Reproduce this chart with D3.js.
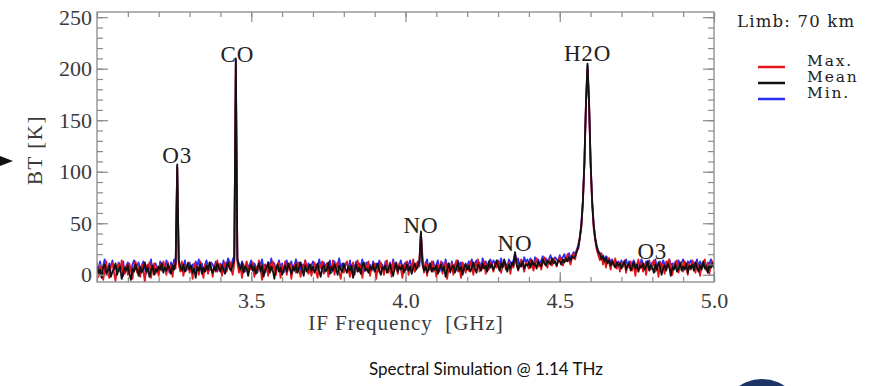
<!DOCTYPE html>
<html>
<head>
<meta charset="utf-8">
<script src="https://cdn.jsdelivr.net/npm/d3@7"></script>
<style>
  body { margin: 0; background: #fff; }
  svg { display: block; }
</style>
</head>
<body>
<svg id="chart" width="875" height="386"></svg>
<script>
//---------------- data ----------------//
// frequency grid in GHz, one sample every 0.005 GHz from 3.000 to 5.000
const freq = d3.range(401).map(i => +(3 + i * 0.005).toFixed(3));

// brightness temperature [K], mean case (one row = 0.1 GHz)
const meanBT = [
  8, 2, 5, -3, 7, 10, 1, 4, 9, -2, 3, 6, 11, 0, 5, 8, -4, 2, 7, 4,
  9, 1, -5, 6, 3, 10, 5, -1, 8, 2, 6, 12, 3, 7, -2, 4, 9, 0, 6, 3,
  8, 5, 11, 2, 7, 4, 10, 6, 1, 9, 5, 12, 107, 14, 8, 4, 10, 3, 7, 11,
  5, 9, 2, 6, -3, 8, 4, 10, 1, 7, 3, 9, 5, 12, 6, 2, 8, 4, 11, 7,
  3, 9, 5, 1, 8, 12, 6, 4, 10, 14, 210, 16, 9, 5, 11, 2, 8, 6, -1, 7,
  10, 4, 8, 1, 6, 11, 3, 9, -2, 5, 7, 12, 2, 8, 4, -4, 6, 10, 3, 7,
  0, 5, 9, 3, 11, 6, 1, 8, 4, 10, 2, 7, 12, 5, -1, 9, 3, 6, 10, 4,
  8, 2, 6, 11, 4, -2, 7, 9, 3, 5, 12, 1, 8, 4, 10, 6, 0, 9, 5, 3,
  11, 6, 2, 8, 4, 9, -3, 5, 10, 3, 7, 1, 9, 12, 4, 6, 2, 8, 5, 10,
  3, 7, 11, 4, 0, 8, 5, 9, 2, 6, 10, 4, -1, 7, 12, 3, 8, 5, 9, 2,
  6, 10, 4, 8, 1, 7, 11, 5, 9, 12, 42, 10, 4, 8, 2, 6, 11, 3, 7, 5,
  9, 1, 6, 10, 4, 8, -2, 5, 11, 3, 7, 9, 2, 6, 12, 4, 8, 0, 7, 10,
  5, 9, 3, 7, 12, 6, 2, 10, 8, 4, 11, 6, 9, 3, 13, 7, 10, 5, 8, 14,
  9, 4, 11, 7, 15, 8, 3, 10, 6, 12, 9, 22, 10, 5, 11, 8, 13, 6, 10, 9,
  12, 7, 14, 9, 11, 6, 13, 10, 8, 15, 11, 9, 14, 12, 10, 16, 11, 13, 9, 14,
  13, 10, 15, 12, 16, 13, 17, 14, 18, 16, 18, 22, 27, 35, 48, 71, 110, 168, 205, 168,
  110, 71, 48, 35, 27, 22, 20, 15, 18, 13, 16, 11, 14, 9, 13, 10, 7, 12, 9, 11,
  6, 10, 13, 5, 9, 11, 4, 8, 12, 6, 10, 3, 9, 7, 11, 5, 8, 13, 4, 9,
  7, 2, 10, 5, 12, 8, 0, 6, 9, 4, 11, 7, -1, 8, 5, 10, 3, 6, 12, 4,
  8, 5, 11, 2, 9, 6, 10, 4, 12, 7, 3, 9, 5, 13, 6, 8, 2, 10, 7, 11,
  6
];

// maximum case
const maxBT = [
  12, -2, 6, 9, -5, 4, 13, 1, -3, 8, 11, 2, -6, 7, 10, 3, 14, -1, 5, 9,
  0, 11, 4, -4, 8, 13, 2, 7, -2, 10, 5, -7, 9, 3, 12, -3, 6, 11, 1, 8,
  -1, 10, 4, 13, 7, 0, 12, 3, 9, -2, 11, 6, 104, 10, 3, 13, -1, 8, 5, 12,
  2, 8, -4, 11, 5, 9, 0, 13, 4, -3, 10, 6, 1, 12, 7, -2, 9, 3, 14, 5,
  10, -1, 7, 12, 3, 9, 13, 5, 0, 11, 206, 12, 2, 8, -3, 10, 4, 13, 1, 9,
  5, 12, -2, 8, 3, 14, 6, -5, 10, 2, 9, -1, 11, 4, 13, 7, 0, 8, 12, -3,
  9, 4, 13, 0, 7, 11, -4, 6, 10, 2, 12, 5, -2, 9, 3, 14, 6, 1, 10, -1,
  6, 12, 3, -3, 10, 7, 13, 1, 5, 11, -2, 8, 4, 14, 0, 9, 12, 3, -4, 7,
  2, 10, 13, 5, -2, 8, 12, 0, 6, 14, 3, 9, -3, 7, 11, 4, 13, -1, 8, 5,
  11, -4, 7, 3, 12, 6, 0, 10, 14, 2, 8, -2, 13, 5, 9, 1, 11, 6, -3, 10,
  4, 13, 0, 9, 6, 15, 3, 11, 7, 14, 40, 18, 2, 12, -1, 9, 5, 13, 3, 8,
  -2, 10, 6, 13, 1, 8, 12, -4, 7, 4, 11, 0, 9, 14, 3, 6, -3, 12, 8, 2,
  10, 4, 13, 7, 0, 11, 8, 15, 3, 9, 6, 13, 1, 10, 5, 12, 8, 3, 11, 7,
  13, 6, 2, 10, 14, 5, 9, 12, 1, 11, 7, 20, 13, 4, 8, 15, 10, 3, 12, 9,
  6, 14, 9, 4, 12, 16, 8, 11, 5, 13, 17, 10, 7, 15, 12, 9, 16, 13, 8, 14,
  17, 11, 9, 15, 13, 20, 14, 10, 17, 21, 15, 24, 25, 37, 46, 70, 108, 165, 200, 166,
  108, 69, 45, 33, 24, 19, 14, 21, 10, 15, 7, 17, 12, 5, 14, 9, 16, 6, 11, 3,
  12, 8, 14, 2, 10, 7, 13, 4, 11, -1, 9, 15, 6, 12, 3, 10, 0, 13, 8, 5,
  11, 14, 3, 9, -2, 12, 6, 10, 1, 13, 8, 15, 4, 0, 11, 7, 14, 2, 9, 12,
  3, 13, 7, 0, 11, 5, 14, 9, 2, 12, 6, -1, 10, 8, 15, 4, 11, 1, 9, 13,
  8
];

// minimum case
const minBT = [
  10, 6, 13, 4, 9, 15, 7, 2, 11, 8, 14, 5, 10, 3, 12, 9, 6, 13, 1, 8,
  12, 7, 3, 10, 14, 5, 9, 12, 2, 8, 13, 6, 1, 10, 7, 15, 4, 9, 11, 6,
  3, 13, 8, 11, 5, 14, 9, 2, 12, 7, 15, 10, 105, 13, 6, 11, 8, 14, 4, 9,
  12, 6, 10, 3, 13, 8, 15, 5, 11, 2, 9, 14, 7, 4, 12, 10, 6, 13, 3, 9,
  11, 7, 14, 5, 10, 16, 12, 8, 15, 18, 208, 14, 11, 6, 13, 9, 3, 12, 7, 10,
  14, 6, 11, 8, 2, 13, 9, 15, 5, 10, 4, 12, 8, 16, 6, 11, 3, 9, 14, 7,
  11, 2, 8, 14, 6, 10, 13, 4, 9, 15, 7, 12, 3, 10, 8, 14, 5, 11, 2, 9,
  13, 7, 10, 4, 15, 9, 3, 12, 8, 11, 6, 14, 2, 10, 13, 5, 9, 16, 7, 11,
  4, 9, 12, 6, 14, 2, 10, 7, 13, 5, 11, 8, 15, 3, 9, 12, 6, 10, 4, 13,
  8, 11, 5, 14, 7, 10, 2, 13, 9, 6, 12, 4, 15, 8, 11, 3, 10, 14, 7, 9,
  12, 5, 10, 14, 7, 11, 3, 9, 13, 8, 41, 12, 6, 10, 15, 4, 11, 8, 13, 6,
  10, 14, 3, 9, 12, 6, 15, 8, 11, 2, 13, 7, 10, 5, 14, 9, 12, 4, 8, 11,
  7, 13, 9, 15, 5, 11, 14, 8, 12, 6, 16, 10, 13, 7, 12, 15, 9, 14, 11, 8,
  14, 10, 16, 8, 13, 11, 6, 15, 12, 9, 14, 21, 11, 16, 8, 13, 10, 17, 12, 15,
  11, 16, 13, 9, 17, 12, 15, 10, 14, 18, 13, 16, 11, 15, 19, 14, 12, 17, 15, 13,
  19, 15, 17, 20, 14, 18, 21, 16, 19, 22, 20, 24, 29, 36, 50, 72, 109, 166, 203, 167,
  109, 72, 49, 36, 28, 23, 21, 17, 19, 15, 18, 13, 16, 12, 15, 11, 14, 9, 13, 10,
  14, 8, 12, 15, 9, 13, 7, 11, 14, 10, 6, 12, 9, 15, 11, 8, 13, 10, 14, 7,
  12, 9, 15, 6, 11, 13, 8, 14, 10, 5, 12, 15, 9, 11, 7, 13, 10, 14, 8, 12,
  15, 9, 6, 13, 11, 14, 8, 12, 10, 15, 7, 13, 9, 11, 14, 6, 12, 10, 15, 9,
  11
];

// line labels: name, frequency [GHz], label baseline value [K]
const lineNames = ["O3", "CO", "NO", "NO", "H2O", "O3"];
const lineFreq  = [3.26, 3.455, 4.05, 4.355, 4.59, 4.80];
const lineLabY  = [108, 206, 41, 23, 207, 15];

const xTicks = [3.5, 4.0, 4.5, 5.0];
const yTicks = [0, 50, 100, 150, 200, 250];

const legendNames = ["Max.", "Mean", "Min."];
const legendColors = ["#e8141c", "#111111", "#2a2cf0"];

//---------------- layout ----------------//
const svg = d3.select("#chart");
const plot = { left: 97, right: 714, top: 12, bottom: 282 };
const serif = "'Liberation Serif', 'Times New Roman', serif";
const wideSerif = "'DejaVu Serif', serif";
const frameColor = "#8a8a8a";

const x = d3.scaleLinear().domain([3.0, 5.0]).range([plot.left, plot.right]);
const y = d3.scaleLinear().domain([-7, 255]).range([plot.bottom, plot.top]);

svg.append("defs").append("clipPath").attr("id", "plotClip")
  .append("rect")
  .attr("x", plot.left).attr("y", plot.top)
  .attr("width", plot.right - plot.left).attr("height", plot.bottom - plot.top);

// spectra, min and max first so the mean sits on top
const series = [
  { values: minBT, color: legendColors[2] },
  { values: maxBT, color: legendColors[0] },
  { values: meanBT, color: legendColors[1] }
];

const line = d3.line()
  .x((d, i) => x(freq[i]))
  .y(d => y(d));

svg.append("g").attr("clip-path", "url(#plotClip)")
  .selectAll("path")
  .data(series)
  .join("path")
  .attr("d", d => line(d.values))
  .attr("fill", "none")
  .attr("stroke", d => d.color)
  .attr("stroke-width", 1.8)
  .attr("stroke-linejoin", "round");

//---------------- axes (ticks pointing inward) ----------------//
function styleAxis(g) {
  g.select(".domain").remove();
  g.selectAll(".tick line").attr("stroke", frameColor).attr("stroke-width", 1.2);
  g.selectAll("text")
    .attr("fill", "#3a3a3a")
    .style("font-family", serif)
    .style("font-size", "22px");
}

const xMinor = x.ticks(20);
const yMinor = d3.range(0, 251, 10);

// bottom
svg.append("g").attr("transform", `translate(0,${plot.bottom})`)
  .call(d3.axisBottom(x).tickValues(xMinor).tickSize(-5).tickFormat(""))
  .call(styleAxis);
svg.append("g").attr("transform", `translate(0,${plot.bottom})`)
  .call(d3.axisBottom(x).tickValues(xTicks).tickSize(-10).tickPadding(10).tickFormat(d3.format(".1f")))
  .call(styleAxis);
// top
svg.append("g").attr("transform", `translate(0,${plot.top})`)
  .call(d3.axisTop(x).tickValues(xMinor).tickSize(-5).tickFormat(""))
  .call(styleAxis);
svg.append("g").attr("transform", `translate(0,${plot.top})`)
  .call(d3.axisTop(x).tickValues(xTicks).tickSize(-10).tickFormat(""))
  .call(styleAxis);
// left
svg.append("g").attr("transform", `translate(${plot.left},0)`)
  .call(d3.axisLeft(y).tickValues(yMinor).tickSize(-6).tickFormat(""))
  .call(styleAxis);
svg.append("g").attr("transform", `translate(${plot.left},0)`)
  .call(d3.axisLeft(y).tickValues(yTicks).tickSize(-11).tickPadding(5).tickFormat(d3.format("d")))
  .call(styleAxis);
// right
svg.append("g").attr("transform", `translate(${plot.right},0)`)
  .call(d3.axisRight(y).tickValues(yMinor).tickSize(-6).tickFormat(""))
  .call(styleAxis);
svg.append("g").attr("transform", `translate(${plot.right},0)`)
  .call(d3.axisRight(y).tickValues(yTicks).tickSize(-11).tickFormat(""))
  .call(styleAxis);

// frame
svg.append("rect")
  .attr("x", plot.left).attr("y", plot.top)
  .attr("width", plot.right - plot.left).attr("height", plot.bottom - plot.top)
  .attr("fill", "none").attr("stroke", frameColor).attr("stroke-width", 1.3);

// axis titles
svg.append("text")
  .attr("x", 406).attr("y", 330)
  .attr("text-anchor", "middle")
  .attr("fill", "#3a3a3a")
  .style("font-family", serif).style("font-size", "21px").style("letter-spacing", "1px")
  .style("white-space", "pre")
  .text("IF Frequency  [GHz]");

svg.append("text")
  .attr("transform", "translate(42,150) rotate(-90)")
  .attr("text-anchor", "middle")
  .attr("fill", "#3a3a3a")
  .style("font-family", serif).style("font-size", "21px").style("letter-spacing", "1.5px")
  .text("BT [K]");

// species labels
svg.append("g").selectAll("text")
  .data(lineNames)
  .join("text")
  .attr("x", (d, i) => x(lineFreq[i]))
  .attr("y", (d, i) => y(lineLabY[i]))
  .attr("text-anchor", "middle")
  .attr("fill", "#222")
  .style("font-family", serif).style("font-size", "23px").style("letter-spacing", "0.8px")
  .text(d => d);

//---------------- legend ----------------//
svg.append("text")
  .attr("x", 737).attr("y", 27)
  .attr("fill", "#222")
  .style("font-family", wideSerif).style("font-size", "16.5px").style("letter-spacing", "1.2px")
  .text("Limb: 70 km");

const legendY = [66, 82, 98];
const legend = svg.append("g").selectAll("g")
  .data(legendNames)
  .join("g")
  .attr("transform", (d, i) => `translate(0,${legendY[i]})`);
legend.append("line")
  .attr("x1", 758).attr("x2", 785).attr("y1", 1).attr("y2", 1)
  .attr("stroke", (d, i) => legendColors[i]).attr("stroke-width", 2.5);
legend.append("text")
  .attr("x", 807).attr("y", 0)
  .attr("fill", "#222")
  .style("font-family", wideSerif).style("font-size", "15.5px").style("letter-spacing", "1.8px")
  .text(d => d);

//---------------- slide decorations ----------------//
// little pointer arrow on the left edge
svg.append("path")
  .attr("d", "M0,156 L13,161 L0,166 Z")
  .attr("fill", "#111");

// title underneath
svg.append("text")
  .attr("x", 486).attr("y", 375)
  .attr("text-anchor", "middle")
  .attr("fill", "#111")
  .style("font-family", "Lato, 'Open Sans', sans-serif").style("font-size", "17px")
  .text("Spectral Simulation @ 1.14 THz");

// top of the logo peeking in at the bottom right
svg.append("ellipse")
  .attr("cx", 762).attr("cy", 423).attr("rx", 42).attr("ry", 44)
  .attr("fill", "#1d3566");
</script>
</body>
</html>
